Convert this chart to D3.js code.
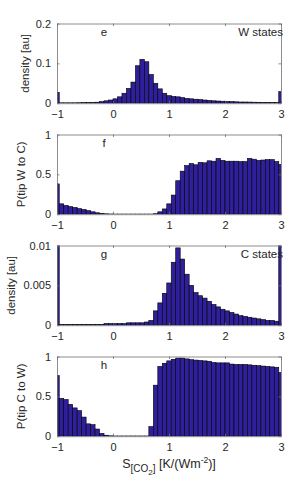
<!DOCTYPE html>
<html lang="en">
<head>
<meta charset="UTF-8">
<title>Tipping histograms</title>
<script src="https://d3js.org/d3.v7.min.js"></script>
<style>
  body { margin: 0; background: #fff; }
  text { font-family: "Liberation Sans", Arial, sans-serif; fill: #262626; }
</style>
</head>
<body>
<div id="chart"></div>
<script>
// bin centres of the histograms (-1 : 0.08 : 3)
var binCenters = d3.range(51).map(function(k) { return +(-1 + 0.08 * k).toFixed(2); });
var binWidth = 0.08;
var xTicks = [-1, 0, 1, 2, 3];

// panel e: density of W states
var wStates = [0.027, 0.001, 0.001, 0.001, 0.001, 0.0012, 0.0015, 0.0018, 0.002, 0.0025,
  0.004, 0.006, 0.008, 0.011, 0.016, 0.025, 0.037, 0.053, 0.094, 0.110,
  0.104, 0.072, 0.050, 0.036, 0.025, 0.019, 0.017, 0.016, 0.014, 0.012,
  0.011, 0.010, 0.009, 0.008, 0.007, 0.006, 0.0055, 0.005, 0.0045, 0.004,
  0.0035, 0.003, 0.003, 0.0028, 0.0025, 0.0023, 0.002, 0.002, 0.0018, 0.0017,
  0.029];

// panel f: P(tip W to C)
var tipWtoC = [0.38, 0.13, 0.11, 0.095, 0.085, 0.07, 0.06, 0.045, 0.03, 0.018,
  0.01, 0.005, 0.003, 0.002, 0.002, 0.002, 0.002, 0.002, 0.002, 0.002,
  0.002, 0.002, 0.006, 0.03, 0.066, 0.13, 0.24, 0.42, 0.54, 0.61,
  0.635, 0.62, 0.65, 0.645, 0.67, 0.665, 0.70, 0.675, 0.665, 0.665,
  0.665, 0.66, 0.66, 0.70, 0.69, 0.675, 0.68, 0.685, 0.685, 0.66,
  0.625];

// panel g: density of C states
var cStates = [0.05, 0.0001, 0.0001, 0.0001, 0.0001, 0.0001, 0.0001, 0.0001, 0.0001, 0.0001,
  0.0001, 0.0002, 0.0002, 0.0002, 0.0002, 0.0002, 0.0003, 0.0003, 0.0003, 0.0003,
  0.0004, 0.0006, 0.0018, 0.0028, 0.004, 0.0053, 0.0079, 0.0097, 0.0083, 0.0064,
  0.005, 0.0041, 0.0037, 0.0034, 0.003, 0.0026, 0.0023, 0.002, 0.0018, 0.0016,
  0.0014, 0.0012, 0.0011, 0.001, 0.0009, 0.0008, 0.0007, 0.0006, 0.0006, 0.0005,
  0.03];

// panel h: P(tip C to W)
var tipCtoW = [0.76, 0.475, 0.46, 0.40, 0.355, 0.32, 0.24, 0.155, 0.145, 0.09,
  0.035, 0.012, 0.005, 0.003, 0.003, 0.003, 0.003, 0.003, 0.003, 0.003,
  0.003, 0.12, 0.64, 0.875, 0.915, 0.945, 0.965, 0.98, 0.98, 0.97,
  0.96, 0.955, 0.95, 0.945, 0.94, 0.925, 0.92, 0.92, 0.92, 0.905,
  0.90, 0.90, 0.90, 0.895, 0.89, 0.885, 0.88, 0.875, 0.87, 0.865,
  0.80];

var panels = [
  {values: wStates, yMax: 0.2, yTicks: [0, 0.1, 0.2], yTickLabels: ["0", "0.1", "0.2"],
   ylabel: "density [au]", letter: "e", note: "W states", labelX: 25},
  {values: tipWtoC, yMax: 1, yTicks: [0, 0.5, 1], yTickLabels: ["0", "0.5", "1"],
   ylabel: "P(tip W to C)", letter: "f", note: "", labelX: 21},
  {values: cStates, yMax: 0.01, yTicks: [0, 0.005, 0.01], yTickLabels: ["0", "0.005", "0.01"],
   ylabel: "density [au]", letter: "g", note: "C states", labelX: 11},
  {values: tipCtoW, yMax: 1, yTicks: [0, 0.5, 1], yTickLabels: ["0", "0.5", "1"],
   ylabel: "P(tip C to W)", letter: "h", note: "", labelX: 21}
];

var width = 301, height = 491;
var left = 57, right = 281;
var panelTop = 23.5, panelH = 79.7, panelStep = 111;

var svg = d3.select("#chart").append("svg")
  .attr("width", width)
  .attr("height", height);

var x = d3.scaleLinear().domain([-1, 3]).range([left, right]);

panels.forEach(function(p, i) {
  var top = panelTop + i * panelStep;
  var bottom = top + panelH;
  var y = d3.scaleLinear().domain([0, p.yMax]).range([bottom, top]);

  var clipId = "clip" + i;
  svg.append("clipPath").attr("id", clipId)
    .append("rect")
    .attr("x", left).attr("y", top)
    .attr("width", right - left).attr("height", panelH);

  var g = svg.append("g");

  // bars
  g.append("g").attr("clip-path", "url(#" + clipId + ")")
    .selectAll("rect")
    .data(binCenters)
    .enter().append("rect")
    .attr("x", function(c) { return x(c - binWidth / 2); })
    .attr("width", function(c) { return x(c + binWidth / 2) - x(c - binWidth / 2); })
    .attr("y", function(c, k) { return y(p.values[k]); })
    .attr("height", function(c, k) { return bottom - y(p.values[k]); })
    .style("fill", "#2f1f9c")
    .style("stroke", "#000")
    .style("stroke-width", 0.6);

  // axes: ticks inward, on all four sides
  var axB = g.append("g").attr("transform", "translate(0," + bottom + ")")
    .call(d3.axisBottom(x).tickValues(xTicks).tickSizeInner(-2.5).tickSizeOuter(0)
      .tickPadding(7).tickFormat(d3.format("d")));
  var axT = g.append("g").attr("transform", "translate(0," + top + ")")
    .call(d3.axisTop(x).tickValues(xTicks).tickSizeInner(-2.5).tickSizeOuter(0).tickFormat(""));
  var axL = g.append("g").attr("transform", "translate(" + left + ",0)")
    .call(d3.axisLeft(y).tickValues(p.yTicks).tickSizeInner(-2.5).tickSizeOuter(0)
      .tickPadding(6).tickFormat(function(d, j) { return p.yTickLabels[j]; }));
  var axR = g.append("g").attr("transform", "translate(" + right + ",0)")
    .call(d3.axisRight(y).tickValues(p.yTicks).tickSizeInner(-2.5).tickSizeOuter(0).tickFormat(""));

  [axB, axT, axL, axR].forEach(function(a) {
    a.select(".domain").style("stroke", "#6e6e6e").style("stroke-width", 0.8);
    a.selectAll(".tick line").style("stroke", "#6e6e6e").style("stroke-width", 0.8);
    a.selectAll(".tick text").style("font-size", "11px").style("fill", "#262626")
      .style("font-family", "'Liberation Sans', Arial, sans-serif");
  });

  // y label
  g.append("text")
    .attr("transform", "translate(" + p.labelX + "," + (top + panelH / 2) + ") rotate(-90)")
    .attr("text-anchor", "middle")
    .attr("dy", "0.35em")
    .style("font-size", "11.5px")
    .text(p.ylabel);

  // panel letter and note
  g.append("text")
    .attr("x", 104).attr("y", top + 12.5)
    .attr("text-anchor", "middle")
    .style("font-size", "11.5px")
    .text(p.letter);
  if (p.note) {
    g.append("text")
      .attr("x", 283).attr("y", top + 12.5)
      .attr("text-anchor", "end")
      .style("font-size", "11.5px")
      .text(p.note);
  }
});

// x label with nested subscript and superscript
var xl = svg.append("text")
  .attr("x", 169).attr("y", 468)
  .attr("text-anchor", "middle")
  .style("font-size", "12.5px");
xl.append("tspan").text("S");
xl.append("tspan").attr("dy", 4).style("font-size", "10px").text("[CO");
xl.append("tspan").attr("dy", 3).style("font-size", "8px").text("2");
xl.append("tspan").attr("dy", -3).style("font-size", "10px").text("]");
xl.append("tspan").attr("dy", -4).text(" [K/(Wm");
xl.append("tspan").attr("dy", -5).style("font-size", "8.5px").text("-2");
xl.append("tspan").attr("dy", 5).text(")]");
</script>
</body>
</html>
